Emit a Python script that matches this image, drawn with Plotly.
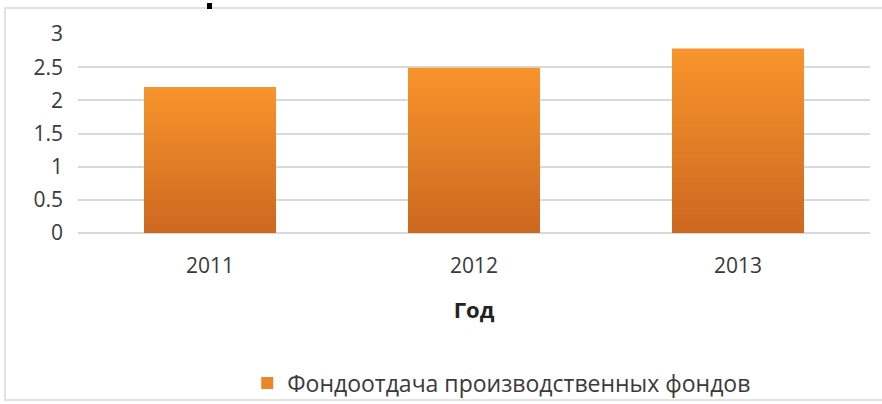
import plotly.graph_objects as go

years = ["2011", "2012", "2013"]
values = [2.20, 2.49, 2.78]
series_name = "Фондоотдача производственных фондов"
y_ticks = [0, 0.5, 1, 1.5, 2, 2.5, 3]
y_tick_labels = ["0", "0.5", "1", "1.5", "2", "2.5", "3"]

top_rgb = (248, 148, 44)
bottom_rgb = (205, 104, 32)
N = 40

fig = go.Figure()
# simulate vertical gradient with overlaid bars (tallest/lightest first)
for k in range(N, 0, -1):
    t = (k - 1) / (N - 1)
    c = tuple(round(bottom_rgb[i] + (top_rgb[i] - bottom_rgb[i]) * t) for i in range(3))
    fig.add_trace(go.Bar(
        x=years,
        y=[v * k / N for v in values],
        marker=dict(color="rgb(%d,%d,%d)" % c, line=dict(width=0)),
        name=series_name,
        showlegend=(k == N // 2 + 8),
        hoverinfo="skip" if k != N else None,
    ))

font_fam = "Open Sans, DejaVu Sans, sans-serif"

fig.update_layout(
    width=882, height=404,
    margin=dict(l=78, r=12, t=34, b=171),
    paper_bgcolor="white", plot_bgcolor="white",
    barmode="overlay", bargap=0.5,
    font=dict(family=font_fam, color="#3a3a3a", size=21),
    xaxis=dict(
        type="category", showgrid=False, showline=False, ticks="",
        automargin=False, ticklabelstandoff=18,
        tickfont=dict(size=21, color="#3a3a3a", family=font_fam),
        title=dict(text="<b>Год</b>", standoff=24,
                   font=dict(size=22, color="#222222", family=font_fam)),
    ),
    yaxis=dict(
        range=[0, 3], tickvals=y_ticks, ticktext=y_tick_labels,
        automargin=False,
        showgrid=True, gridcolor="#D9D9D9", gridwidth=1.5,
        zeroline=True, zerolinecolor="#D9D9D9", zerolinewidth=1.5,
        showline=False, ticks="", ticklabelstandoff=14,
        tickfont=dict(size=21, color="#3a3a3a", family=font_fam),
    ),
    legend=dict(
        orientation="h", x=0.535, xanchor="center",
        yref="container", y=1 - 383 / 404, yanchor="middle",
        bgcolor="rgba(0,0,0,0)",
        font=dict(size=23, color="#3a3a3a", family=font_fam),
        itemwidth=30, traceorder="normal",
    ),
    shapes=[
        dict(type="rect", xref="paper", yref="paper",
             x0=(5 - 78) / 792, x1=(890 - 78) / 792,
             y0=(233 - 400) / 199, y1=(233 - 8) / 199,
             line=dict(color="#D9D9D9", width=1.5), fillcolor="rgba(0,0,0,0)", layer="below"),
        dict(type="rect", xref="paper", yref="paper",
             x0=(207 - 78) / 792, x1=(212 - 78) / 792,
             y0=(233 - 9) / 199, y1=(233 - 3) / 199,
             line=dict(width=0), fillcolor="black"),
    ],
)

fig.write_html(
    "out.html",
    config={"displayModeBar": False},
    post_script="document.body.style.margin='0';document.body.style.overflow='hidden';",
)
